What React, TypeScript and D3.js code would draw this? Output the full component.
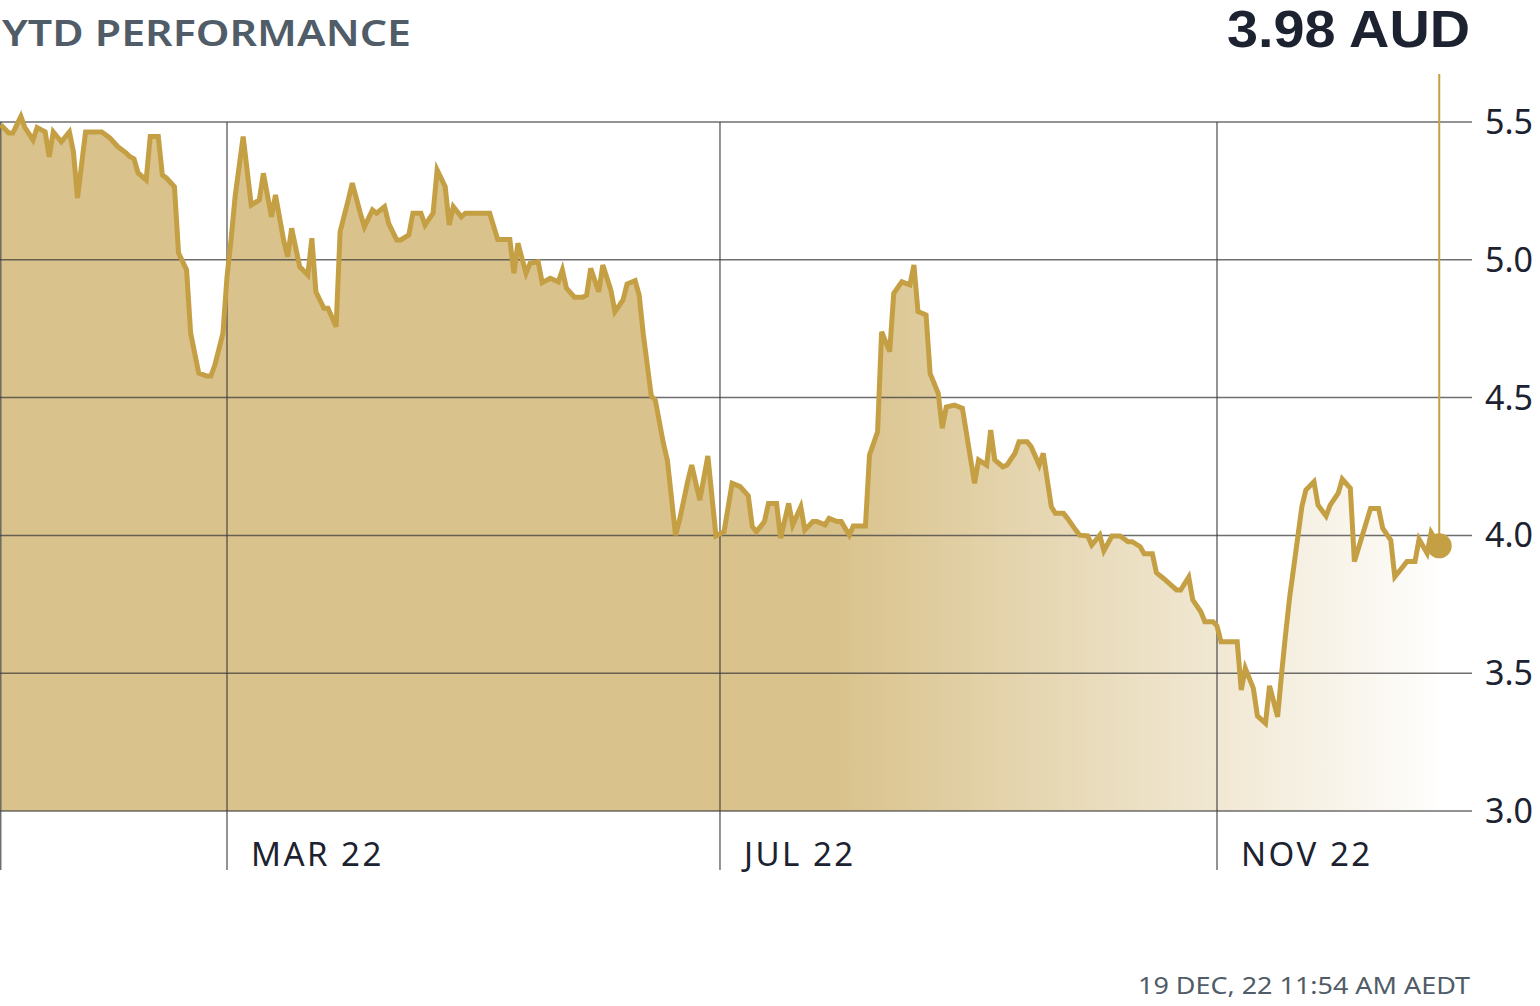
import React from "react";
import * as d3 from "d3";

// Day of year 2022 (Jan 1 = 0) for each observation
const days: number[] = [
  3, 5, 6, 8, 9, 11, 12, 14, 15, 16, 18, 20, 21, 22, 24, 28, 30, 32, 34, 35, 36, 37, 39, 40, 42, 43, 44, 46, 47, 49,
  50, 52, 54, 55, 56, 58, 59, 60, 61, 63, 65, 67, 68, 70, 71, 73, 74, 75, 77, 79, 80, 81, 83, 84, 86, 87, 89, 90, 92, 93,
  95, 96, 98, 99, 101, 102, 104, 105, 107, 108, 110, 111, 113, 114, 115, 117, 118, 124, 126, 129, 130, 131, 133, 134, 136, 137, 139, 141, 142, 143,
  145, 147, 148, 149, 151, 152, 154, 155, 157, 158, 160, 161, 162, 164, 165, 167, 168, 170, 171, 173, 174, 176, 178, 180, 182, 184, 186, 188, 189, 190,
  192, 193, 195, 196, 198, 199, 201, 202, 204, 205, 207, 208, 210, 211, 213, 214, 217, 218, 220, 221, 223, 224, 226, 228, 229, 230, 232, 233, 235, 236,
  237, 239, 241, 244, 245, 247, 248, 249, 251, 252, 254, 255, 257, 258, 260, 261, 263, 264, 266, 267, 269, 270, 272, 273, 275, 276, 278, 280, 282, 283,
  285, 286, 288, 289, 291, 292, 294, 295, 297, 298, 300, 301, 303, 304, 305, 309, 310, 311, 313, 314, 316, 317, 319, 320, 321, 322, 323, 325, 326, 328,
  329, 331, 332, 334, 335, 337, 338, 339, 341, 342, 344, 345, 347, 348, 350, 351, 353, 354, 356, 357, 359,
];

const prices: number[] = [
  5.49, 5.46, 5.46, 5.52, 5.48, 5.435, 5.48, 5.464, 5.374, 5.464, 5.428, 5.464, 5.392, 5.224, 5.464, 5.464, 5.442, 5.41, 5.388, 5.374, 5.366, 5.315, 5.29, 5.447, 5.447, 5.308, 5.297, 5.265, 5.025, 4.963,
  4.734, 4.589, 4.578, 4.578, 4.618, 4.734, 4.938, 5.072, 5.229, 5.447, 5.199, 5.217, 5.314, 5.156, 5.235, 5.072, 5.011, 5.114, 4.975, 4.945, 5.078, 4.884, 4.824, 4.824, 4.757, 5.102, 5.217, 5.278, 5.169, 5.12,
  5.181, 5.169, 5.193, 5.132, 5.072, 5.072, 5.09, 5.169, 5.169, 5.126, 5.169, 5.326, 5.265, 5.126, 5.193, 5.156, 5.169, 5.169, 5.074, 5.074, 4.951, 5.06, 4.951, 4.987, 4.993, 4.917, 4.933, 4.92, 4.963, 4.897,
  4.864, 4.864, 4.872, 4.969, 4.884, 4.981, 4.89, 4.812, 4.854, 4.912, 4.924, 4.872, 4.733, 4.506, 4.491, 4.334, 4.271, 4.001, 4.056, 4.195, 4.255, 4.128, 4.288, 3.998, 4.013, 4.189, 4.177, 4.144, 4.032, 4.013,
  4.05, 4.116, 4.116, 3.99, 4.116, 4.038, 4.104, 4.02, 4.05, 4.05, 4.038, 4.062, 4.05, 4.05, 4.001, 4.034, 4.034, 4.292, 4.376, 4.739, 4.667, 4.878, 4.92, 4.909, 4.981, 4.812, 4.8, 4.588, 4.516, 4.389,
  4.466, 4.473, 4.461, 4.189, 4.274, 4.255, 4.382, 4.274, 4.249, 4.255, 4.298, 4.34, 4.34, 4.322, 4.255, 4.298, 4.104, 4.08, 4.08, 4.062, 4.02, 4.001, 3.998, 3.965, 4.001, 3.944, 3.998, 3.998, 3.977, 3.977,
  3.959, 3.933, 3.933, 3.865, 3.841, 3.828, 3.802, 3.802, 3.849, 3.766, 3.723, 3.687, 3.687, 3.671, 3.614, 3.614, 3.439, 3.518, 3.445, 3.345, 3.318, 3.454, 3.342, 3.5, 3.645, 3.778, 3.886, 4.104, 4.165, 4.195,
  4.11, 4.07, 4.11, 4.153, 4.204, 4.171, 3.905, 3.953, 4.05, 4.098, 4.098, 4.026, 3.983, 3.85, 3.886, 3.905, 3.905, 3.986, 3.935, 4.01, 3.962,
];

const monthTickDays: number[] = [59, 181, 304];
const monthTickLabels: string[] = ["MAR 22", "JUL 22", "NOV 22"];
const priceTicks: number[] = [3.0, 3.5, 4.0, 4.5, 5.0, 5.5];

const TITLE = "YTD PERFORMANCE";
const LAST_PRICE_LABEL = "3.98 AUD";
const TIMESTAMP = "19 DEC, 22 11:54 AM AEDT";

const W = 1540;
const H = 1006;

export default function App() {
  const data = days.map((d, i) => ({ day: d, price: prices[i] }));

  const x = d3.scaleLinear().domain([59, 304]).range([227, 1217]);
  const y = d3.scaleLinear().domain([3.0, 5.5]).range([811, 122]);

  const lineGen = d3
    .line<{ day: number; price: number }>()
    .x((d) => x(d.day))
    .y((d) => y(d.price));
  const areaGen = d3
    .area<{ day: number; price: number }>()
    .x((d) => x(d.day))
    .y0(y(3.0))
    .y1((d) => y(d.price));

  const first = data[0];
  const last = data[data.length - 1];
  const xStart = x(first.day);
  const xEnd = x(last.day);
  const gridRight = 1472;
  const lineColor = "#c49f44";
  const fillColor = "#d9c28b";
  const gridColor = "#3f3f3f";
  const font = "'Noto Sans', sans-serif";

  const fadeStart = (830 - xStart) / (xEnd - xStart);

  return (
    <svg
      width={W}
      height={H}
      viewBox={`0 0 ${W} ${H}`}
      style={{ position: "absolute", left: 0, top: 0, background: "#fff" }}
    >
      <defs>
        <linearGradient id="areaFade" gradientUnits="userSpaceOnUse" x1={xStart} x2={xEnd} y1={0} y2={0}>
          <stop offset={0} stopColor={fillColor} stopOpacity={1} />
          <stop offset={fadeStart} stopColor={fillColor} stopOpacity={1} />
          <stop offset={1} stopColor={fillColor} stopOpacity={0.02} />
        </linearGradient>
      </defs>

      <text
        x={2}
        y={46}
        fontFamily={font}
        fontWeight={600}
        fontSize={36}
        fill="#505c68"
        textLength={409}
        lengthAdjust="spacingAndGlyphs"
      >
        {TITLE}
      </text>
      <text
        x={1470}
        y={47}
        textAnchor="end"
        fontFamily="'Liberation Sans', Arial, sans-serif"
        fontWeight={700}
        fontSize={51}
        fill="#1c2230"
        textLength={243}
        lengthAdjust="spacingAndGlyphs"
      >
        {LAST_PRICE_LABEL}
      </text>

      <path d={areaGen(data) || ""} fill="url(#areaFade)" />

      {priceTicks.map((t) => (
        <g key={t}>
          <line x1={0} x2={gridRight} y1={y(t)} y2={y(t)} stroke={gridColor} strokeOpacity={0.75} strokeWidth={1.5} />
          <text x={1485} y={y(t) + 12} fontFamily={font} fontSize={34} fill="#1c2230">
            {d3.format(".1f")(t)}
          </text>
        </g>
      ))}

      <line x1={xStart} x2={xStart} y1={y(5.5)} y2={870} stroke={gridColor} strokeOpacity={0.75} strokeWidth={1.5} />
      {monthTickDays.map((d, i) => (
        <g key={d}>
          <line x1={x(d)} x2={x(d)} y1={y(5.5)} y2={870} stroke={gridColor} strokeOpacity={0.75} strokeWidth={1.5} />
          <text x={x(d) + 24} y={866} fontFamily={font} fontSize={33} letterSpacing={2.5} fill="#1c2230">
            {monthTickLabels[i]}
          </text>
        </g>
      ))}

      <path d={lineGen(data) || ""} fill="none" stroke={lineColor} strokeWidth={5} strokeLinejoin="miter" />

      <line x1={xEnd} x2={xEnd} y1={74} y2={y(last.price)} stroke={lineColor} strokeWidth={2} />
      <circle cx={xEnd} cy={y(last.price)} r={12.5} fill={lineColor} />

      <text
        x={1470}
        y={994}
        textAnchor="end"
        fontFamily={font}
        fontSize={23}
        fill="#505c68"
        textLength={332}
        lengthAdjust="spacingAndGlyphs"
      >
        {TIMESTAMP}
      </text>
    </svg>
  );
}
